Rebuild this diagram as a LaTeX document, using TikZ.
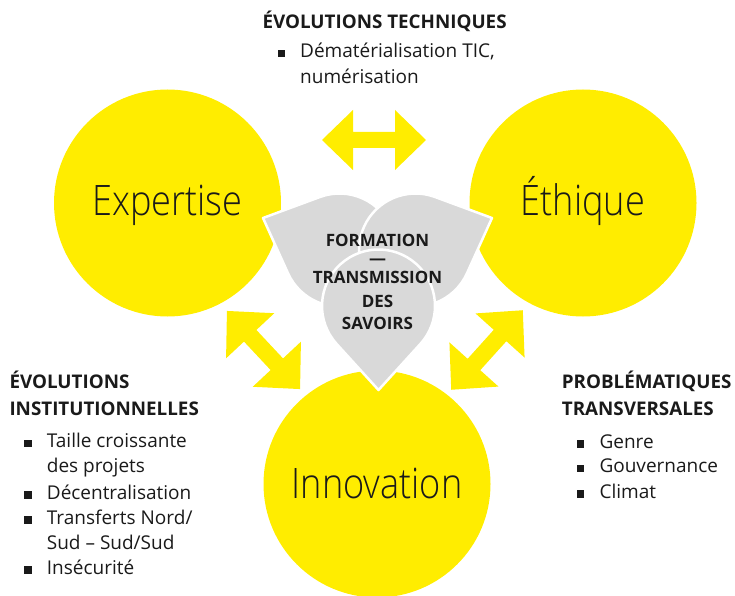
\documentclass[tikz,border=0pt]{standalone}
\usepackage{fontspec}
\setmainfont{Open Sans}
\newfontfamily\oslight[FakeStretch=0.86]{Open Sans Light}
\usetikzlibrary{calc}
\definecolor{ey}{HTML}{FFED00}
\definecolor{pg}{HTML}{D9D9D9}
\definecolor{tx}{HTML}{1A1A1A}
\tikzset{
  bigcirc/.style={circle, fill=ey, minimum size=227pt, inner sep=0pt},
  circlabel/.style={font=\oslight\fontsize{42}{42}\selectfont, text=tx, inner sep=0pt, anchor=base},
  headtext/.style={font=\bfseries\fontsize{18.8}{20}\selectfont, text=tx, inner sep=0pt, anchor=base west},
  itemtext/.style={font=\fontsize{19}{20}\selectfont, text=tx, inner sep=0pt, anchor=base west},
  bul/.style={rectangle, fill=tx, minimum size=7.5pt, inner sep=0pt},
  ctext/.style={font=\bfseries\fontsize{17}{20}\selectfont, text=tx, inner sep=0pt, anchor=base},
  petalstyle/.style={fill=pg, draw=white, line width=2.5pt, line join=round},
  arrowfill/.style={fill=ey},
}
\newcommand\petal[5]{%
  \pgfmathsetmacro\pbeta{acos(#3/#4)}%
  \pgfmathsetmacro\pa{#5+\pbeta}%
  \pgfmathsetmacro\pe{#5+360-\pbeta}%
  \path[petalstyle] ($(#1,#2)+(#5:#4)$) -- ($(#1,#2)+(\pa:#3)$)
     arc[start angle=\pa, end angle=\pe, radius=#3] -- cycle;}
\newcommand\dblarrow[7]{%
  \begin{scope}[shift={(#1,#2)}, rotate=#3]
    \fill[arrowfill] (-#4,0) -- ({-#4+#5},#6) -- ({-#4+#5},#7) -- ({#4-#5},#7)
      -- ({#4-#5},#6) -- (#4,0) -- ({#4-#5},-#6) -- ({#4-#5},-#7)
      -- ({-#4+#5},-#7) -- ({-#4+#5},-#6) -- cycle;
  \end{scope}}
\begin{document}
\begin{tikzpicture}[x=1pt, y=-1pt]
  \useasboundingbox (0,0) rectangle (735,596);
  \clip (0,0) rectangle (735,596);
  % circles
  \node[bigcirc] (cexp) at (167.5,203) {};
  \node[bigcirc] (ceth) at (583,203) {};
  \node[bigcirc] (cinn) at (377,484) {};
  % arrows
  \dblarrow{374}{140}{0}{52}{31}{30}{8}
  \dblarrow{263.5}{350}{-46.9}{53.5}{34}{33}{8.5}
  \dblarrow{487}{350}{48}{53.5}{34}{33}{8.5}
  % petals
  \petal{339.5}{250}{56.5}{82.9}{202.7}
  \petal{415.5}{250}{56.5}{82.9}{337.3}
  \petal{378.5}{306}{56.5}{84}{90}
  % circle labels
  \node[circlabel] (lexp) at (167.5,215) {Expertise};
  \node[circlabel] (leth) at (583,215) {Éthique};
  \node[circlabel] (linn) at (377,498) {Innovation};
  % center text
  \node[ctext] (c1) at (377.5,246) {FORMATION};
  \node[ctext] (c2) at (377.5,264) {—};
  \node[ctext] (c3) at (377.5,283.3) {TRANSMISSION};
  \node[ctext] (c4) at (377.5,307.3) {DES};
  \node[ctext] (c5) at (377.5,329.3) {SAVOIRS};
  % top block
  \node[headtext] (ht) at (262.3,28.3) {ÉVOLUTIONS TECHNIQUES};
  \node[bul] (bt1) at (281.5,53.5) {};
  \node[itemtext] (t1) at (300,57.3) {Dématérialisation TIC,};
  \node[itemtext] (t2) at (300,83.3) {numérisation};
  % left block
  \node[headtext] (hl1) at (9.3,388) {ÉVOLUTIONS};
  \node[headtext] (hl2) at (9.3,415) {INSTITUTIONNELLES};
  \node[bul] (bl1) at (28,443.5) {};
  \node[itemtext] (l1) at (46.7,447.3) {Taille croissante};
  \node[itemtext] (l2) at (46.7,472.7) {des projets};
  \node[bul] (bl2) at (28,495) {};
  \node[itemtext] (l3) at (46.7,499) {Décentralisation};
  \node[bul] (bl3) at (28,520) {};
  \node[itemtext] (l4) at (46.7,524) {Transferts Nord/};
  \node[itemtext] (l5) at (46.7,549) {Sud – Sud/Sud};
  \node[bul] (bl4) at (28,570) {};
  \node[itemtext] (l6) at (46.7,574) {Insécurité};
  % right block
  \node[headtext] (hr1) at (561.7,388) {PROBLÉMATIQUES};
  \node[headtext] (hr2) at (561.7,415) {TRANSVERSALES};
  \node[bul] (br1) at (580.5,444) {};
  \node[itemtext] (r1) at (599.3,448) {Genre};
  \node[bul] (br2) at (580.5,468.7) {};
  \node[itemtext] (r2) at (599.3,472.7) {Gouvernance};
  \node[bul] (br3) at (580.5,494) {};
  \node[itemtext] (r3) at (599.3,498) {Climat};
\end{tikzpicture}
\end{document}
